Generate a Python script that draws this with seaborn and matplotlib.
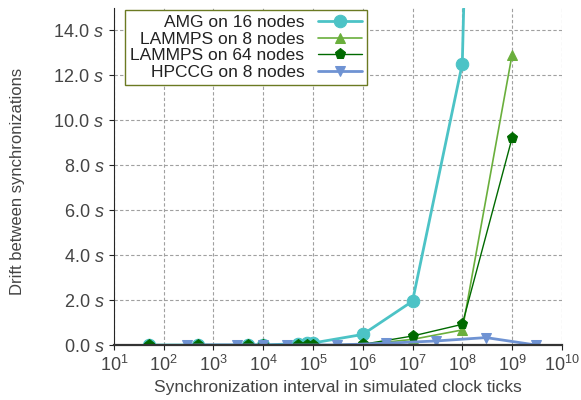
import numpy as np
import pandas as pd
import matplotlib
matplotlib.use('Agg')
import matplotlib.pyplot as plt
import seaborn as sns

sns.set_style('ticks')
plt.rcParams['font.family'] = ['Liberation Sans', 'DejaVu Sans']
plt.rcParams['mathtext.fontset'] = 'custom'
plt.rcParams['mathtext.it'] = 'Liberation Sans:italic'
plt.rcParams['mathtext.rm'] = 'Liberation Sans'

# data
amg_x = [50, 500, 5000, 1e4, 5e4, 7.5e4, 1e5, 1e6, 1e7, 1e8, 1e9]
amg_y = [0.0, 0.0, 0.0, 0.0, 0.06, 0.07, 0.09, 0.47, 1.95, 12.52, 100.0]
lmp8_x = [50, 500, 5000, 1e4, 5e4, 7.5e4, 1e5, 1e6, 1e7, 1e8, 1e9]
lmp8_y = [0.0, 0.0, 0.0, 0.0, 0.0, 0.0, 0.0, 0.02, 0.25, 0.67, 12.92]
lmp64_x = [50, 500, 5000, 1e4, 5e4, 7.5e4, 1e5, 1e6, 1e7, 1e8, 1e9]
lmp64_y = [0.0, 0.0, 0.0, 0.0, 0.0, 0.0, 0.0, 0.03, 0.4, 0.92, 9.21]
hpccg_x = [300, 3000, 1e4, 3e4, 3e5, 3e6, 3e7, 3e8, 3e9]
hpccg_y = [0.0, 0.0, 0.0, 0.0, 0.0, 0.08, 0.18, 0.33, 0.0]

yticks = [0, 2, 4, 6, 8, 10, 12, 14]

fig, ax = plt.subplots(figsize=(5.81, 4.0), dpi=100)
fig.subplots_adjust(left=0.196, right=0.967, bottom=0.1375, top=0.98)

series = [
    ('AMG on 16 nodes', amg_x, amg_y, '#4CC3C6', 'o', 2.0, 9),
    ('LAMMPS on 8 nodes', lmp8_x, lmp8_y, '#6AAF3C', '^', 1.2, 7),
    ('LAMMPS on 64 nodes', lmp64_x, lmp64_y, '#006A00', 'p', 1.0, 8),
    ('HPCCG on 8 nodes', hpccg_x, hpccg_y, '#6F93D3', 'v', 2.0, 7),
]
for name, xs, ys, col, mk, lw, ms in series:
    df = pd.DataFrame({'x': xs, 'y': ys})
    sns.lineplot(data=df, x='x', y='y', ax=ax, color=col, marker=mk, lw=lw,
                 markersize=ms, markeredgecolor=col, label=name)

ax.set_xscale('log')
ax.set_xlim(10, 1e10)
ax.set_ylim(0, 15)
ax.set_xticks([10.0 ** k for k in range(1, 11)])
ax.set_yticks(yticks)
ax.set_yticklabels([f'{v:.1f} $s$' for v in yticks])
ax.grid(True, which='major', ls=(0, (3, 2)), color='#a0a0a0', lw=0.8)
ax.tick_params(axis='both', labelsize=13, colors='#222222', labelcolor='#444444')
ax.tick_params(axis='x', which='minor', length=2)
ax.set_xlabel('Synchronization interval in simulated clock ticks', fontsize=12.5, color='#444444')
ax.set_ylabel('Drift between synchronizations', fontsize=12, color='#444444')
ax.yaxis.set_label_coords(-0.199, 0.485)
sns.despine(ax=ax)
ax.spines['bottom'].set_linewidth(1.6)
ax.spines['bottom'].set_color('#333333')

leg = ax.legend(loc='upper left', markerfirst=False, fontsize=12.5, frameon=True,
                fancybox=False, handlelength=2.5, borderpad=0.3, labelspacing=0.08,
                handletextpad=0.8, bbox_to_anchor=(0.025, 0.994), framealpha=1,
                borderaxespad=0)
leg.get_frame().set_edgecolor('#6B7A22')
leg.get_frame().set_linewidth(1.0)
for t in leg.get_texts():
    t.set_color('#222222')

fig.savefig('out.png', dpi=100)
